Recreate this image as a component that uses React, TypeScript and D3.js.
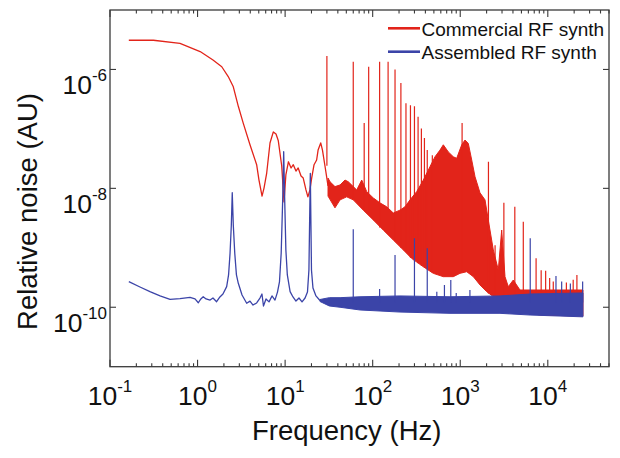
import React from "react";
import * as d3 from "d3";

// ---------- data ----------
// red trace, low-frequency part: [frequency Hz, relative noise]
const redTrace: [number, number][] = [
  [0.164, 3.1e-6], [0.313, 3.1e-6], [0.63, 2.75e-6], [1.07, 2.0e-6], [1.5, 1.44e-6],
  [1.89, 1.11e-6], [2.24, 7.6e-7], [2.56, 5.1e-7], [2.92, 2.4e-7], [3.33, 1.24e-7],
  [3.97, 5.4e-8], [4.73, 2.5e-8], [5.03, 1.38e-8], [5.45, 7.4e-9], [5.74, 1.01e-8],
  [6.16, 1.81e-8], [6.72, 5.8e-8], [7.33, 8.9e-8], [7.87, 8.2e-8], [8.36, 6.3e-8],
  [9.14, 2.4e-8], [9.71, 5.9e-9], [10.2, 1.68e-8], [10.9, 2.8e-8], [11.7, 2.2e-8],
  [12.4, 2.5e-8], [13.3, 1.95e-8], [14.1, 2.2e-8], [15.2, 1.61e-8], [16.1, 1.49e-8],
  [17.3, 9.4e-9], [18.2, 7.2e-9], [19.2, 9.4e-9], [20.1, 1.49e-8], [21.4, 2.5e-8],
  [22.9, 3.0e-8], [23.8, 4.4e-8], [25.5, 5.8e-8], [26.7, 4.4e-8], [28.5, 2.4e-8],
  [30.9, 1.1e-8],
];

// red dense noise band: upper and lower envelopes, [frequency, value]
const redBandTop: [number, number][] = [
  [30.9, 1.49e-8], [32.6, 1.29e-8], [37.1, 1.07e-8], [42.4, 1.14e-8], [48.3, 1.38e-8],
  [52.7, 1.29e-8], [65.7, 9.4e-9], [75, 1.38e-8], [85.5, 8.8e-9], [101.6, 6.9e-9],
  [121, 5.7e-9], [144.5, 4.9e-9], [172, 3.85e-9], [205, 4.3e-9], [234, 4.9e-9],
  [267, 6.4e-9], [318, 8.8e-9], [379, 1.38e-8], [451, 2.31e-8], [515, 3.4e-8],
  [587, 4.4e-8], [641, 5.4e-8], [731, 4.1e-8], [833, 3.4e-8], [911, 3.2e-8],
  [1040, 5.4e-8], [1133, 6.5e-8], [1236, 5.7e-8], [1352, 3.0e-8], [1475, 1.57e-8],
  [1682, 8.4e-9], [1918, 6.4e-9], [2092, 2.94e-9], [2386, 9.2e-10], [2721, 4.24e-10],
  [2975, 1.99e-9], [3246, 3.27e-10], [3540, 2.22e-10], [4036, 2.87e-10], [4813, 1.95e-10],
  [8140, 1.95e-10], [25200, 1.95e-10],
];
const redBandBottom: [number, number][] = [
  [30.9, 7.4e-9], [37.1, 4.7e-9], [42.4, 6.4e-9], [50.5, 7.2e-9], [60, 6.4e-9],
  [78.1, 4.3e-9], [101.6, 2.94e-9], [132, 1.99e-9], [172, 1.35e-9], [224, 9.2e-10],
  [278, 6.65e-10], [379, 4.8e-10], [492, 3.72e-10], [641, 3.27e-10], [833, 3.27e-10],
  [994, 3.72e-10], [1186, 3.96e-10], [1411, 3.27e-10], [1682, 2.37e-10], [2006, 1.83e-10],
  [2386, 1.51e-10], [3079, 1.23e-10], [3421, 1.09e-10], [4220, 9.0e-11], [8140, 7.4e-11],
  [25200, 7.1e-11],
];

// red harmonic spikes: [frequency, base, top]
const redSpikes: [number, number, number][] = [
  [30, 2.4e-8, 1.68e-6], [60, 6.4e-9, 1.35e-6], [80, 4.3e-9, 1.26e-7], [90, 3.8e-9, 1.11e-6],
  [120, 2.2e-9, 1.35e-6], [150, 1.7e-9, 1.35e-6], [180, 1.3e-9, 1.0e-6], [210, 1.0e-9, 5.9e-7],
  [240, 8.5e-10, 2.7e-7], [270, 6.8e-10, 2.5e-7], [300, 6e-10, 2.4e-7], [330, 5.5e-10, 1.6e-7],
  [360, 5e-10, 1.02e-7], [390, 4.6e-10, 7.0e-8], [420, 4.3e-10, 4.4e-8], [480, 3.8e-10, 3.6e-8],
  [1050, 3.8e-10, 1.26e-7], [2100, 1.7e-10, 2.8e-8], [2500, 1.5e-10, 1.1e-9], [3150, 1.2e-10, 5.7e-9],
  [4200, 9e-11, 4.9e-9], [5250, 9e-11, 2.75e-9], [7350, 8e-11, 6.7e-10], [8400, 8e-11, 4.2e-10],
  [9450, 8e-11, 4.1e-10], [10500, 8e-11, 3.1e-10], [11550, 8e-11, 2.7e-10], [16300, 8e-11, 2.6e-10],
  [19500, 8e-11, 2.9e-10], [21500, 8e-11, 3.5e-10],
];

// blue trace, low-frequency part
const blueTrace: [number, number][] = [
  [0.164, 2.69e-10], [0.22, 2.19e-10], [0.286, 1.83e-10], [0.373, 1.55e-10], [0.485, 1.36e-10],
  [0.63, 1.4e-10], [0.82, 1.47e-10], [0.935, 1.38e-10], [1.02, 1.19e-10], [1.09, 1.38e-10],
  [1.16, 1.5e-10], [1.25, 1.38e-10], [1.39, 1.32e-10], [1.5, 1.43e-10], [1.65, 1.24e-10],
  [1.8, 1.49e-10], [1.95, 1.67e-10], [2.15, 2.22e-10], [2.26, 3.49e-10], [2.35, 8.1e-10],
  [2.43, 2.4e-9], [2.49, 8.45e-9], [2.56, 2.4e-9], [2.66, 8.1e-10], [2.78, 3.49e-10],
  [2.92, 2.53e-10], [3.22, 1.61e-10], [3.64, 1.17e-10], [3.97, 1.27e-10], [4.3, 1.09e-10],
  [4.73, 1.18e-10], [5.16, 1.43e-10], [5.44, 1.67e-10], [5.66, 1.05e-10], [6.05, 1.38e-10],
  [6.55, 1.23e-10], [7.08, 1.55e-10], [7.66, 1.32e-10], [8.18, 1.8e-10], [8.62, 2.66e-10],
  [9.02, 8.2e-10], [9.38, 6.4e-9], [9.63, 4.14e-8], [9.89, 6.4e-9], [10.2, 9.2e-10],
  [10.6, 3.49e-10], [11.4, 1.83e-10], [12.3, 1.49e-10], [13.3, 1.27e-10], [14.4, 1.43e-10],
  [15.6, 1.23e-10], [16.9, 1.43e-10], [18.0, 1.8e-10], [18.7, 4.24e-10], [19.4, 1.79e-8],
  [20.0, 4.24e-10], [20.8, 2.11e-10], [22.5, 1.55e-10], [25.0, 1.3e-10],
];

// blue dense noise band
const blueBandF = [25, 32, 42.4, 71.6, 205, 764, 2845, 6270, 25200];
const blueBandHi = [1.35e-10, 1.45e-10, 1.45e-10, 1.5e-10, 1.55e-10, 1.5e-10, 1.55e-10, 1.67e-10, 1.74e-10];
const blueBandLo = [1.25e-10, 1.05e-10, 1.0e-10, 9.0e-11, 8.3e-11, 7.9e-11, 7.9e-11, 7.4e-11, 6.9e-11];

// blue spikes: [frequency, top]
const blueSpikes: [number, number][] = [
  [60, 2.05e-9], [120, 2.03e-10], [180, 7.6e-10], [300, 1.45e-9], [420, 9.8e-10],
  [540, 1.83e-10], [660, 2.37e-10], [780, 2.87e-10], [900, 1.74e-10], [1290, 1.95e-10],
  [6300, 1.45e-9], [12400, 3.35e-10], [14400, 2.7e-10], [18100, 2.5e-10], [25000, 2.7e-10],
];
const blueSpikeBase = 1.2e-10;

const xTickExps = [-1, 0, 1, 2, 3, 4];
const yTickExps = [-10, -8, -6];
const seriesNames = ["Commercial RF synth", "Assembled RF synth"];
const xLabel = "Frequency (Hz)";
const yLabel = "Relative noise (AU)";

// ---------- layout ----------
const W = 620, H = 458;
const M = { left: 110, right: 609, top: 10, bottom: 366.7 };
const RED = "#e2241a";
const BLUE = "#3b44a8";
const AX = "#3a3a3a";
const FONT = "'Liberation Sans', Arial, Helvetica, sans-serif";

export default function App() {
  const x = d3.scaleLog().domain([0.1, 5e4]).range([M.left, M.right]);
  const y = d3.scaleLog().domain([1e-11, 1e-5]).range([M.bottom, M.top]);

  const line = d3.line<[number, number]>().x(d => x(d[0])).y(d => y(d[1]));
  const redBandPath = (line(redBandTop.concat(redBandBottom.slice().reverse())) || "") + "Z";
  const blueBand = d3.area<number>()
    .x((_, i) => x(blueBandF[i]))
    .y0((_, i) => y(blueBandLo[i]))
    .y1((_, i) => y(blueBandHi[i]));

  const xTicks = x.ticks(40).filter(t => t >= 0.1 && t <= 5e4);
  const isMajor = (t: number) => Math.abs(Math.log10(t) - Math.round(Math.log10(t))) < 1e-9;

  return (
    <svg width={W} height={H} style={{ position: "fixed", left: 0, top: 0, background: "#fff" }} fontFamily={FONT}>
      <rect width={W} height={H} fill="#fff" />
      <defs>
        <clipPath id="plot">
          <rect x={M.left} y={M.top} width={M.right - M.left} height={M.bottom - M.top} />
        </clipPath>
      </defs>
      <g clipPath="url(#plot)">
        {/* red series */}
        <path d={redBandPath} fill={RED} stroke={RED} strokeWidth={1} strokeLinejoin="round" />
        <path d={line(redTrace) || ""} fill="none" stroke={RED} strokeWidth={1.3} strokeLinejoin="round" />
        {redSpikes.map(([f, b, t], i) => (
          <line key={"rs" + i} x1={x(f)} x2={x(f)} y1={y(b)} y2={y(t)} stroke={RED} strokeWidth={1.2} />
        ))}
        {/* blue series */}
        <path d={blueBand(blueBandF) || ""} fill={BLUE} stroke={BLUE} strokeWidth={1} />
        <path d={line(blueTrace) || ""} fill="none" stroke={BLUE} strokeWidth={1.3} strokeLinejoin="round" />
        {blueSpikes.map(([f, t], i) => (
          <line key={"bs" + i} x1={x(f)} x2={x(f)} y1={y(blueSpikeBase)} y2={y(t)} stroke={BLUE} strokeWidth={1.2} />
        ))}
      </g>

      {/* frame */}
      <rect x={M.left} y={M.top} width={M.right - M.left} height={M.bottom - M.top} fill="none" stroke={AX} strokeWidth={1.3} />

      {/* x ticks (inward, top and bottom) */}
      {xTicks.map((t, i) => {
        const len = isMajor(t) ? 7 : 3.5;
        const px = x(t);
        return (
          <g key={"xt" + i} stroke={AX} strokeWidth={1.1}>
            <line x1={px} x2={px} y1={M.bottom} y2={M.bottom - len} />
            <line x1={px} x2={px} y1={M.top} y2={M.top + len} />
          </g>
        );
      })}
      {xTickExps.map(e => (
        <text key={"xl" + e} x={x(Math.pow(10, e))} y={405} textAnchor="middle" fontSize={26.5} fill="#111">
          10<tspan dy={-13} fontSize={17}>{e}</tspan>
        </text>
      ))}

      {/* y ticks */}
      {yTickExps.map(e => {
        const py = y(Math.pow(10, e));
        return (
          <g key={"yt" + e}>
            <line x1={M.left} x2={M.left + 6} y1={py} y2={py} stroke={AX} strokeWidth={1.1} />
            <line x1={M.right} x2={M.right - 6} y1={py} y2={py} stroke={AX} strokeWidth={1.1} />
            <text x={107} y={py + 25} textAnchor="end" fontSize={26.5} fill="#111">
              10<tspan dy={-13} fontSize={17}>{e}</tspan>
            </text>
          </g>
        );
      })}

      {/* axis labels */}
      <text x={346.7} y={440} textAnchor="middle" fontSize={27.5} fill="#111">{xLabel}</text>
      <text transform={`translate(37, 211.5) rotate(-90)`} textAnchor="middle" fontSize={27.5} fill="#111">{yLabel}</text>

      {/* legend */}
      {[RED, BLUE].map((c, i) => (
        <g key={"lg" + i}>
          <line x1={388} x2={420} y1={28.3 + i * 23.4} y2={28.3 + i * 23.4} stroke={c} strokeWidth={2.6} />
          <text x={421.5} y={35.5 + i * 23.4} fontSize={19} fill="#111">{seriesNames[i]}</text>
        </g>
      ))}
    </svg>
  );
}
